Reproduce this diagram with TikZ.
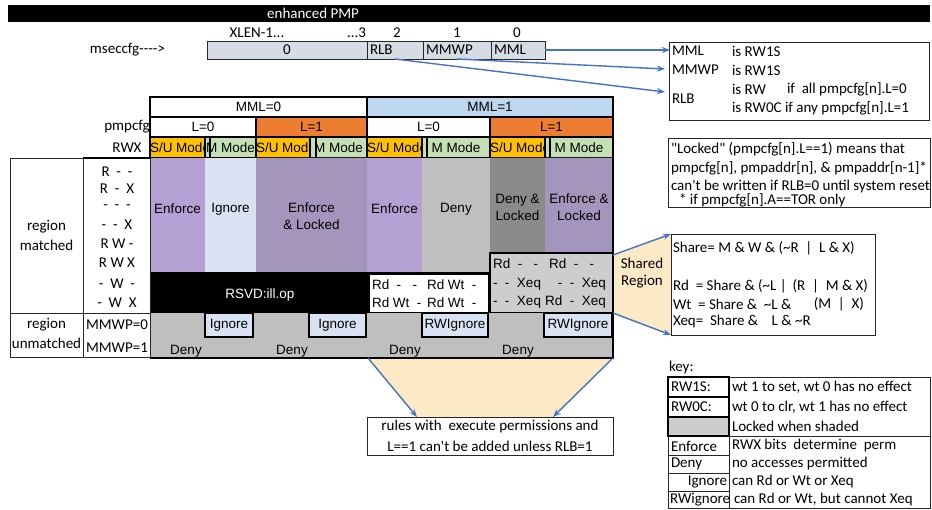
\documentclass[tikz,border=0pt]{standalone}
\usepackage{fontspec}
\setmainfont{Carlito}[Ligatures=TeXOff]
\newfontfamily\arialf{Liberation Sans}[Ligatures=TeXOff]
\usetikzlibrary{patterns.meta,arrows.meta}
\definecolor{regfill}{HTML}{D6DCE4}
\definecolor{mmlblue}{HTML}{BDD7EE}
\definecolor{lorange}{HTML}{ED7D31}
\definecolor{suyellow}{HTML}{FFC000}
\definecolor{mgreen}{HTML}{C5E0B4}
\definecolor{enfpurple}{HTML}{B4A0D2}
\definecolor{ignblue}{HTML}{DAE3F3}
\definecolor{denygray}{HTML}{BFBFBF}
\definecolor{darkshade}{HTML}{959595}
\definecolor{lightshade}{HTML}{D9D9D9}
\definecolor{trapfill}{HTML}{FCE9C6}
\definecolor{arrowblue}{HTML}{4472C4}
\tikzset{
 cal/.style={font=\fontsize{15}{17}\selectfont, inner sep=0pt, outer sep=0pt},
 ar/.style={font=\arialf\fontsize{13.5}{17}\selectfont, inner sep=0pt, outer sep=0pt},
 cellbox/.style={rectangle, inner sep=0pt, outer sep=0pt, anchor=north west},
 hdrcell/.style={cellbox, ar, minimum height=20},
 thinbox/.style={draw=black!85, line width=0.8pt},
 thickline/.style={draw=black, line width=2.6pt},
 shadepat/.style={pattern={Dots[distance=2pt,radius=0.55pt]}, pattern color=#1},
 bluearrow/.style={draw=arrowblue, line width=1.4pt, -{Stealth[length=8pt,width=6pt]}},
}
\begin{document}
\begin{tikzpicture}[x=1pt,y=-1pt]
\useasboundingbox[fill=white] (0,0) rectangle (932,510);

% title bar
\node[cellbox, fill=black, minimum width=922, minimum height=17] (titlebar) at (8,5) {};
\node[cal, text=white] (titletext) at (313,13.5) {enhanced PMP};

% bit numbers
\node[cal] (bxlen) at (257,33) {XLEN-1...};
\node[cal, anchor=east] (b3) at (366,33) {...3};
\node[cal] (b2) at (397,33) {2};
\node[cal] (b1) at (457,33) {1};
\node[cal] (b0) at (517,33) {0};

% mseccfg register
\node[cal, anchor=east] (msec) at (165,50) {mseccfg---->};
\node[cellbox, cal, fill=regfill, thinbox, minimum width=160, minimum height=18] (f0) at (207,41) {0};
\node[cellbox, fill=regfill, thinbox, minimum width=56, minimum height=18] (frlb) at (367,41) {};
\node[cellbox, fill=regfill, thinbox, minimum width=68, minimum height=18] (fmmwp) at (423,41) {};
\node[cellbox, fill=regfill, thinbox, minimum width=54, minimum height=18] (fmml) at (491,41) {};
\node[cal, anchor=west] (trlb) at ([xshift=3pt]frlb.west) {RLB};
\node[cal, anchor=west] (tmmwp) at ([xshift=3pt]fmmwp.west) {MMWP};
\node[cal, anchor=west] (tmml) at ([xshift=3pt]fmml.west) {MML};

% bit description box
\node[cellbox, thinbox, minimum width=260, minimum height=78] (bitsbox) at (669,42) {};
\node[cal, anchor=west] (dmml) at (672,51) {MML};
\node[cal, anchor=west] (dmml2) at (732,51) {is RW1S};
\node[cal, anchor=west] (dmmwp) at (672,70) {MMWP};
\node[cal, anchor=west] (dmmwp2) at (732,70) {is RW1S};
\node[cal, anchor=west] (drlb) at (672,99) {RLB};
\node[cal, anchor=west] (drlb2) at (732,89) {is RW};
\node[cal, anchor=west] (drlb3) at (787,89) {if\ \ all pmpcfg[n].L=0};
\node[cal, anchor=west] (drlb4) at (732,108) {is RW0C if any pmpcfg[n].L=1};
\coordinate (mmlend) at (670,50);
\coordinate (mmwpend) at (665,69);
\coordinate (rlbend) at (665,92);
\draw[bluearrow] (fmml.east) -- (mmlend);
\draw[bluearrow] (fmmwp.south) -- (mmwpend);
\draw[bluearrow] (frlb.south) -- (rlbend);

% locked box
\node[cellbox, thinbox, minimum width=262, minimum height=69] (lockbox) at (668,138) {};
\node[cal, anchor=west] (lk1) at (671,149) {"Locked" (pmpcfg[n].L==1) means that};
\node[cal, anchor=west] (lk2) at (671,168) {pmpcfg[n], pmpaddr[n], \& pmpaddr[n-1]*};
\node[cal, anchor=west] (lk3) at (671,187) {can't be written if RLB=0 until system reset};
\node[cal, anchor=west] (lk4) at (679,200) {* if pmpcfg[n].A==TOR only};

% trapezoids
\fill[trapfill] (613,255) -- (671,234) -- (671,335) -- (613,313) -- cycle;
\fill[trapfill] (368,358) -- (613,358) -- (553,417) -- (417,417) -- cycle;

% table header
\node[hdrcell, fill=white, minimum width=217] (mml0) at (150,97) {MML=0};
\node[hdrcell, fill=mmlblue, minimum width=246] (mml1) at (367,97) {MML=1};
\node[hdrcell, fill=white, minimum width=106] (l0a) at (150,117) {L=0};
\node[hdrcell, fill=lorange, minimum width=111] (l1a) at (256,117) {L=1};
\node[hdrcell, fill=white, minimum width=123] (l0b) at (367,117) {L=0};
\node[hdrcell, fill=lorange, minimum width=123] (l1b) at (490,117) {L=1};
\node[hdrcell, minimum height=21, fill=suyellow, minimum width=55] (su1) at (150,137) {S/U Mode};
\node[hdrcell, minimum height=21, fill=mgreen, minimum width=51] (mm1) at (205,137) {M Mode};
\node[hdrcell, minimum height=21, fill=suyellow, minimum width=54] (su2) at (256,137) {S/U Mode};
\node[hdrcell, minimum height=21, fill=mgreen, minimum width=57] (mm2) at (310,137) {M Mode};
\node[hdrcell, minimum height=21, fill=suyellow, minimum width=55] (su3) at (367,137) {S/U Mode};
\node[hdrcell, minimum height=21, fill=mgreen, minimum width=68] (mm3) at (422,137) {M Mode};
\node[hdrcell, minimum height=21, fill=suyellow, minimum width=55] (su4) at (490,137) {S/U Mode};
\node[hdrcell, minimum height=21, fill=mgreen, minimum width=68] (mm4) at (545,137) {M Mode};
\foreach \n in {mml0,mml1,l0a,l1a,l0b,l1b,su1,mm1,su2,mm2,su3,mm3,su4,mm4}
  \draw[thickline] (\n.north west) rectangle (\n.south east);
\node[cal] (pmpcfglbl) at (127,127) {pmpcfg};
\node[cal] (rwxlbl) at (127,148) {RWX};

% body: region matched
\node[cellbox, fill=enfpurple, minimum width=55, minimum height=114] (enf1) at (150,158) {};
\node[cellbox, fill=ignblue, minimum width=51, minimum height=114] (ign1) at (205,158) {};
\node[cellbox, fill=enfpurple, minimum width=111, minimum height=114] (encl1) at (256,158) {};
\fill[shadepat=black!55] (encl1.north west) rectangle (encl1.south east);
\node[cellbox, fill=enfpurple, minimum width=55, minimum height=114] (enf2) at (367,158) {};
\node[cellbox, fill=denygray, minimum width=68, minimum height=114] (deny2) at (422,158) {};
\node[cellbox, fill=darkshade, minimum width=55, minimum height=95] (dl) at (490,158) {};
\fill[shadepat=black!60] (dl.north west) rectangle (dl.south east);
\node[cellbox, fill=enfpurple, minimum width=68, minimum height=95] (encl2) at (545,158) {};
\fill[shadepat=black!55] (encl2.north west) rectangle (encl2.south east);

\node[ar] (tenf1) at (177.5,209) {Enforce};
\node[ar] (tign1) at (230.5,209) {Ignore};
\node[ar, align=center] (tencl1) at (311.5,216) {Enforce\\\& Locked};
\node[ar] (tenf2) at (394.5,209) {Enforce};
\node[ar] (tdeny2) at (456,209) {Deny};
\node[ar, align=center] (tdl) at (517.5,207) {Deny \&\\Locked};
\node[ar, align=center] (tencl2) at (579,207) {Enforce \&\\Locked};

\node[cellbox, fill=black, minimum width=217, minimum height=41] (rsvd) at (150,272) {};
\node[ar, text=white] (rsvdtext) at (260,295) {RSVD:ill.op};
\node[cellbox, fill=black, minimum width=123, minimum height=41] (rdblack) at (367,272) {};
\node[cellbox, fill=white, minimum width=118, minimum height=37] (rdwhite) at (370,275) {};
\node[ar, anchor=west] (rw1a) at (372,285) {Rd\ \ -\ \ \ -};
\node[ar, anchor=west] (rw1b) at (427,285) {Rd Wt\ \ -};
\node[ar, anchor=west] (rw2a) at (372,303) {Rd Wt\ \ -};
\node[ar, anchor=west] (rw2b) at (427,303) {Rd Wt\ \ -};

\node[cellbox, fill=lightshade, minimum width=123, minimum height=60] (shbox) at (490,253) {};
\fill[shadepat=black!35] (shbox.north west) rectangle (shbox.south east);
\draw[thickline] (shbox.north west) rectangle (shbox.south east);
\node[ar, anchor=west] (sh1a) at (493,264) {Rd\ \ -\ \ \ -};
\node[ar, anchor=west] (sh1b) at (549,264) {Rd\ \ -\ \ \ -};
\node[ar, anchor=west] (sh2a) at (493,284) {-\ \ -\ \ Xeq};
\node[ar, anchor=east] (sh2b) at (606,284) {-\ \ -\ \ Xeq};
\node[ar, anchor=west] (sh3a) at (493,302) {-\ \ -\ \ Xeq};
\node[ar, anchor=east] (sh3b) at (606,302) {Rd\ \ -\ \ Xeq};

% region unmatched
\node[cellbox, fill=denygray, minimum width=463, minimum height=45] (unm) at (150,313) {};
\node[cellbox, ar, fill=ignblue, draw=black, line width=2.2pt, minimum width=48, minimum height=24] (ign2) at (205,313) {Ignore};
\node[cellbox, ar, fill=ignblue, draw=black, line width=2.2pt, minimum width=57, minimum height=24] (ign3) at (309,313) {Ignore};
\node[cellbox, ar, fill=ignblue, draw=black, line width=2.2pt, minimum width=66, minimum height=24] (rwign1) at (422,313) {RWIgnore};
\node[cellbox, ar, fill=ignblue, draw=black, line width=2.2pt, minimum width=68, minimum height=24] (rwign2) at (544,313) {RWIgnore};
\node[ar] (dn1) at (186,351) {Deny};
\node[ar] (dn2) at (292,351) {Deny};
\node[ar] (dn3) at (405,351) {Deny};
\node[ar] (dn4) at (518,351) {Deny};

% outer thick border of table
\draw[thickline] (mml0.north west) -- (mml1.north east) -- (unm.south east) -- (unm.south west);

% left label column
\node[cellbox, thinbox, minimum width=140, minimum height=199] (lblbox) at (10,158) {};
\draw[thinbox] (83,158) -- (83,357);
\draw[thinbox] (10,313) -- (150,313);
\draw[thickline] (83,158) -- (151,158);
\node[cal] (rm1) at (46.5,227) {region};
\node[cal] (rm2) at (46.5,245) {matched};
\node[cal] (ru1) at (46.5,325) {region};
\node[cal] (ru2) at (46.5,343) {unmatched};
\node[cal] (rx1) at (117,172) {R\ \ -\ \ -};
\node[cal] (rx2) at (117,189) {R\ \ -\ \ X};
\node[cal] (rx3) at (117,207) {-\ \ -\ \ -};
\node[cal] (rx4) at (117,225) {-\ \ -\ \ X};
\node[cal] (rx5) at (117,244) {R W -};
\node[cal] (rx6) at (117,263) {R W X};
\node[cal] (rx7) at (117,284) {-\ \ W\ \ -};
\node[cal] (rx8) at (117,303) {-\ \ W\ \ X};
\node[cal] (mw0) at (117,325) {MMWP=0};
\node[cal] (mw1) at (117,348) {MMWP=1};

% shared region
\node[cellbox, thinbox, fill=white, minimum width=204, minimum height=101] (sharebox) at (671,234) {};
\coordinate (shA) at (613,255);
\coordinate (shB) at (613,313);
\draw[bluearrow] (shA) -- (sharebox.north west);
\draw[bluearrow] (shB) -- (sharebox.south west);
\node[cal, align=center] (sharedlbl) at (642,273) {Shared\\Region};
\node[cal, anchor=west] (sf1) at (673,248) {Share= M \& W \& (\textasciitilde R\ \ |\ \ L \& X)};
\node[cal, anchor=west] (sf2) at (673,286) {Rd\ \ = Share \& (\textasciitilde L |};
\node[cal, anchor=east] (sf2b) at (868,286) {(R\ \ |\ \ M \& X)};
\node[cal, anchor=west] (sf3) at (673,304) {Wt\ \ = Share \&\ \ \textasciitilde L \&};
\node[cal, anchor=east] (sf3b) at (864,304) {(M\ \ |\ \ X)};
\node[cal, anchor=west] (sf4) at (673,322) {Xeq=\ \ Share \&\ \ \ \ L \& \textasciitilde R};

% rules box
\node[cellbox, thinbox, fill=white, minimum width=246, minimum height=38] (rulesbox) at (367,417) {};
\coordinate (rA) at (368,358);
\coordinate (rB) at (613,358);
\coordinate (rAe) at (417,417);
\coordinate (rBe) at (553,417);
\draw[bluearrow] (rA) -- (rAe);
\draw[bluearrow] (rB) -- (rBe);
\node[cal] (rules1) at (490,427) {rules with\ \ execute permissions and};
\node[cal] (rules2) at (490,446) {L==1 can't be added unless RLB=1};

% key
\node[cal, anchor=west] (keylbl) at (669,368) {key:};
\draw[thinbox] (729,377) rectangle (930,508);
\draw[thinbox] (668,436) -- (930,436);
\foreach \ya/\yb in {436/455,455/473,473/491,491/508}
  \draw[thinbox] (668,\ya) rectangle (729,\yb);
\fill[lightshade] (668,417) rectangle (729,436);
\fill[shadepat=black!35] (668,417) rectangle (729,436);
\foreach \ya/\yb in {377/397,397/417,417/436}
  \draw[draw=black, line width=2pt] (668,\ya) rectangle (729,\yb);
\node[cal, anchor=west] (k1) at (671,387) {RW1S:};
\node[cal, anchor=west] (k2) at (671,407) {RW0C:};
\node[cal, anchor=west] (k4) at (671,446) {Enforce};
\node[cal, anchor=west] (k5) at (671,464) {Deny};
\node[cal, anchor=east] (k6) at (727,482) {Ignore};
\node[cal, anchor=west] (k7) at (670,499.5) {RWignore};
\node[cal, anchor=west] (v1) at (732,387) {wt 1 to set, wt 0 has no effect};
\node[cal, anchor=west] (v2) at (732,407) {wt 0 to clr, wt 1 has no effect};
\node[cal, anchor=west] (v3) at (732,426) {Locked when shaded};
\node[cal, anchor=west] (v4) at (732,446) {RWX bits\ \ determine\ \ perm};
\node[cal, anchor=west] (v5) at (732,464) {no accesses permitted};
\node[cal, anchor=west] (v6) at (732,482) {can Rd or Wt or Xeq};
\node[cal, anchor=west] (v7) at (734,499.5) {can Rd or Wt, but cannot Xeq};
\end{tikzpicture}
\end{document}
